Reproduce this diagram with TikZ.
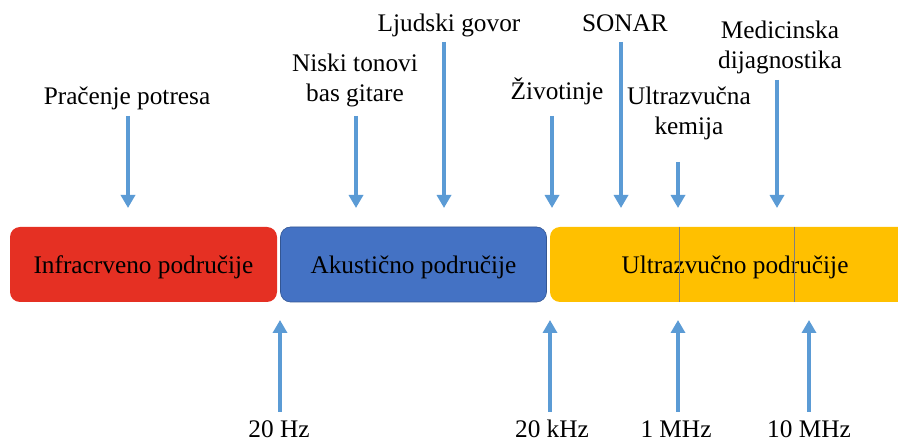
\documentclass[tikz,border=0pt]{standalone}
\usepackage{fontspec}
\setmainfont{Liberation Serif}
\usetikzlibrary{arrows.meta}

\definecolor{infraRed}{HTML}{E53023}
\definecolor{acousticBlue}{HTML}{4472C4}
\definecolor{ultraYellow}{HTML}{FFC000}
\definecolor{arrowBlue}{HTML}{5B9BD5}
\definecolor{tickGray}{HTML}{808080}

\tikzset{
  bandbox/.style={rounded corners=10pt, minimum height=75pt, inner sep=0pt,
    text depth=0pt, font=\fontsize{25.3}{30}\selectfont},
  usagelabel/.style={font=\fontsize{25.3}{30}\selectfont, inner sep=0pt,
    anchor=base, align=center},
  pointer/.style={arrowBlue, line width=4.5pt,
    -{Triangle[width=14pt,length=13pt]}}
}

\begin{document}
\begin{tikzpicture}[x=1pt,y=-1pt]
    % Page frame
    \clip (0,0) rectangle (898,443);

    % Levels of the arrows
    \def\downTip{208}
    \def\upTip{320}
    \def\upFoot{412}

    % Frequency bands
    \node[bandbox, fill=infraRed, minimum width=267pt] (infra) at (143.5,264.5)
      {Infracrveno područije};
    \node[bandbox, fill=acousticBlue, draw=acousticBlue!75!black, line width=0.6pt,
      minimum width=266pt] (akust) at (413.5,264.5) {Akustično područije};
    \node[bandbox, fill=ultraYellow, minimum width=370pt] (ultra) at (735,264.5)
      {Ultrazvučno područije};

    % Decade marks inside the ultrasound band
    \draw[tickGray, line width=0.8pt] (679,227) -- (679,302);
    \draw[tickGray, line width=0.8pt] (794,227) -- (794,302);

    % Applications above the bands (base = last line)
    \node[usagelabel] (potres) at (127,105) {Pračenje potresa};
    \node[usagelabel] (bas) at (355,102) {Niski tonovi\\bas gitare};
    \node[usagelabel] (govor) at (449,32) {Ljudski govor};
    \node[usagelabel] (zivotinje) at (557,100) {Životinje};
    \node[usagelabel] (sonar) at (625,32) {SONAR};
    \node[usagelabel] (kemija) at (689,135) {Ultrazvučna\\kemija};
    \node[usagelabel] (medicina) at (780,69) {Medicinska\\dijagnostika};

    % Arrows pointing down to the bands
    \coordinate (potresA) at (128,116);   \coordinate (potresB) at (128,\downTip);
    \coordinate (basA) at (356,116);      \coordinate (basB) at (356,\downTip);
    \coordinate (govorA) at (444,42);     \coordinate (govorB) at (444,\downTip);
    \coordinate (zivotinjeA) at (552,116);\coordinate (zivotinjeB) at (552,\downTip);
    \coordinate (sonarA) at (621,42);     \coordinate (sonarB) at (621,\downTip);
    \coordinate (kemijaA) at (678,162);   \coordinate (kemijaB) at (678,\downTip);
    \coordinate (medicinaA) at (777,80);  \coordinate (medicinaB) at (777,\downTip);
    \draw[pointer] (potresA) -- (potresB);
    \draw[pointer] (basA) -- (basB);
    \draw[pointer] (govorA) -- (govorB);
    \draw[pointer] (zivotinjeA) -- (zivotinjeB);
    \draw[pointer] (sonarA) -- (sonarB);
    \draw[pointer] (kemijaA) -- (kemijaB);
    \draw[pointer] (medicinaA) -- (medicinaB);

    % Frequency limits below the bands
    \node[usagelabel, text depth=0pt] (hz) at (279,438) {20 Hz};
    \node[usagelabel, text depth=0pt] (khz) at (552,438) {20 kHz};
    \node[usagelabel, text depth=0pt] (mhz) at (676,438) {1 MHz};
    \node[usagelabel, text depth=0pt] (tenmhz) at (809,438) {10 MHz};

    % Arrows pointing up to the band edges
    \coordinate (hzA) at (280,\upFoot);     \coordinate (hzB) at (280,\upTip);
    \coordinate (khzA) at (550,\upFoot);    \coordinate (khzB) at (550,\upTip);
    \coordinate (mhzA) at (678,\upFoot);    \coordinate (mhzB) at (678,\upTip);
    \coordinate (tenmhzA) at (809,\upFoot); \coordinate (tenmhzB) at (809,\upTip);
    \draw[pointer] (hzA) -- (hzB);
    \draw[pointer] (khzA) -- (khzB);
    \draw[pointer] (mhzA) -- (mhzB);
    \draw[pointer] (tenmhzA) -- (tenmhzB);
\end{tikzpicture}
\end{document}
